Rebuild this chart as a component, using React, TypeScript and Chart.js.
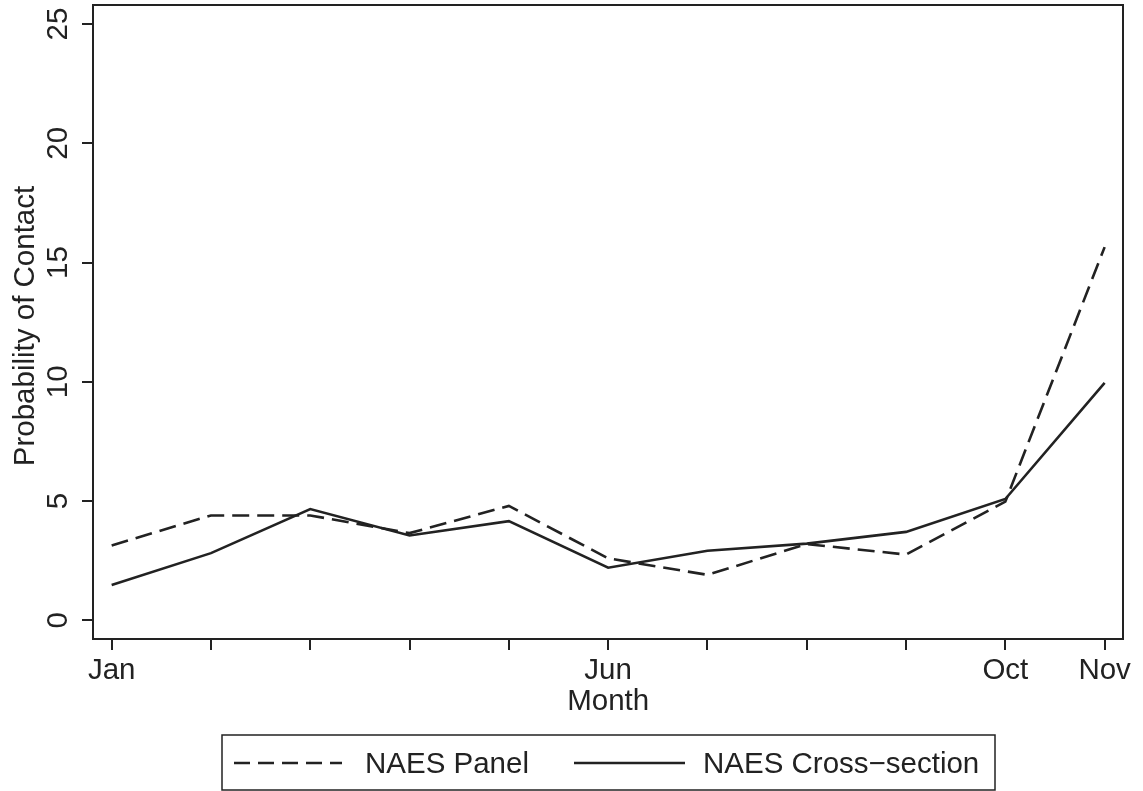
import React, { useEffect, useRef } from "react";
import { Chart, registerables } from "chart.js";

Chart.register(...registerables);

const months = [1, 2, 3, 4, 5, 6, 7, 8, 9, 10, 11];
const monthLabels = ["Jan", "", "", "", "", "Jun", "", "", "", "Oct", "Nov"];
const panelValues = [3.14, 4.4, 4.4, 3.66, 4.8, 2.6, 1.91, 3.2, 2.76, 4.98, 15.65];
const crossValues = [1.48, 2.82, 4.67, 3.56, 4.16, 2.21, 2.92, 3.22, 3.71, 5.09, 9.96];
const yTicks = [0, 5, 10, 15, 20, 25];
const seriesLabels = ["NAES Panel", "NAES Cross\u2212section"];
const xTitle = "Month";
const yTitle = "Probability of Contact";

const INK = "#222222";
const FONT_FAMILY = "'Liberation Sans', Arial, Helvetica, sans-serif";
const FONT_SIZE = 29.5;
const DASH = [17, 8];

const decorPlugin = {
  id: "stataDecor",
  afterDraw(chart: any) {
    const { ctx, chartArea } = chart;
    const yScale = chart.scales.y;
    const xScale = chart.scales.x;
    ctx.save();
    // plot region box
    ctx.strokeStyle = INK;
    ctx.lineWidth = 2;
    ctx.setLineDash([]);
    ctx.strokeRect(chartArea.left, chartArea.top, chartArea.right - chartArea.left, chartArea.bottom - chartArea.top);

    ctx.fillStyle = INK;
    ctx.font = `${FONT_SIZE}px ${FONT_FAMILY}`;

    // rotated y tick labels
    yTicks.forEach((v) => {
      const py = yScale.getPixelForValue(v);
      ctx.save();
      ctx.translate(67, py);
      ctx.rotate(-Math.PI / 2);
      ctx.textAlign = "center";
      ctx.textBaseline = "alphabetic";
      ctx.fillText(String(v), 0, 0);
      ctx.restore();
    });

    // y title
    ctx.save();
    ctx.translate(34, (chartArea.top + chartArea.bottom) / 2 + 4);
    ctx.rotate(-Math.PI / 2);
    ctx.textAlign = "center";
    ctx.textBaseline = "alphabetic";
    ctx.fillText(yTitle, 0, 0);
    ctx.restore();

    // x title
    ctx.textAlign = "center";
    ctx.textBaseline = "alphabetic";
    ctx.fillText(xTitle, xScale.getPixelForValue(6), 710);

    // legend
    ctx.lineWidth = 1.5;
    ctx.strokeRect(222, 735, 773, 55);
    const ly = 763;
    ctx.lineWidth = 2.6;
    ctx.setLineDash([16, 8]);
    ctx.beginPath();
    ctx.moveTo(234, ly);
    ctx.lineTo(342, ly);
    ctx.stroke();
    ctx.setLineDash([]);
    ctx.beginPath();
    ctx.moveTo(574, ly);
    ctx.lineTo(685, ly);
    ctx.stroke();
    ctx.textAlign = "left";
    ctx.fillText(seriesLabels[0], 365, 773);
    ctx.fillText(seriesLabels[1], 703, 773);
    ctx.restore();
  },
};

export default function App() {
  const canvasRef = useRef<HTMLCanvasElement | null>(null);

  useEffect(() => {
    const canvas = canvasRef.current;
    if (!canvas) return;
    const chart = new Chart(canvas, {
      type: "line",
      data: {
        datasets: [
          {
            label: seriesLabels[0],
            data: months.map((m, i) => ({ x: m, y: panelValues[i] })),
            borderColor: INK,
            borderWidth: 2.6,
            borderDash: DASH,
            pointRadius: 0,
            tension: 0,
            fill: false,
          },
          {
            label: seriesLabels[1],
            data: months.map((m, i) => ({ x: m, y: crossValues[i] })),
            borderColor: INK,
            borderWidth: 2.6,
            pointRadius: 0,
            tension: 0,
            fill: false,
          },
        ],
      },
      options: {
        animation: false,
        responsive: false,
        devicePixelRatio: 1,
        layout: { padding: { left: 0, right: 20, top: 5, bottom: 0 } },
        plugins: {
          legend: { display: false },
          tooltip: { enabled: false },
        },
        scales: {
          x: {
            type: "linear",
            min: 0.812,
            max: 11.185,
            afterBuildTicks: (s: any) => {
              s.ticks = months.map((v) => ({ value: v }));
            },
            afterFit: (s: any) => {
              s.height = 152;
            },
            ticks: {
              autoSkip: false,
              maxRotation: 0,
              minRotation: 0,
              padding: 3,
              color: INK,
              font: { family: FONT_FAMILY, size: FONT_SIZE },
              callback: (_v: any, i: number) => monthLabels[i],
            },
            grid: {
              drawOnChartArea: false,
              drawTicks: true,
              tickLength: 11,
              color: INK,
              lineWidth: 2,
            },
            border: { display: false },
          },
          y: {
            type: "linear",
            min: -0.78,
            max: 25.8,
            afterBuildTicks: (s: any) => {
              s.ticks = yTicks.map((v) => ({ value: v }));
            },
            afterFit: (s: any) => {
              s.width = 93;
            },
            ticks: { display: false },
            grid: {
              drawOnChartArea: false,
              drawTicks: true,
              tickLength: 11,
              color: INK,
              lineWidth: 2,
            },
            border: { display: false },
          },
        },
      },
      plugins: [decorPlugin],
    });
    return () => chart.destroy();
  }, []);

  return (
    <div style={{ position: "absolute", left: 0, top: 0, width: 1143, height: 791, background: "#fff" }}>
      <canvas ref={canvasRef} width={1143} height={791} style={{ display: "block" }} />
    </div>
  );
}
